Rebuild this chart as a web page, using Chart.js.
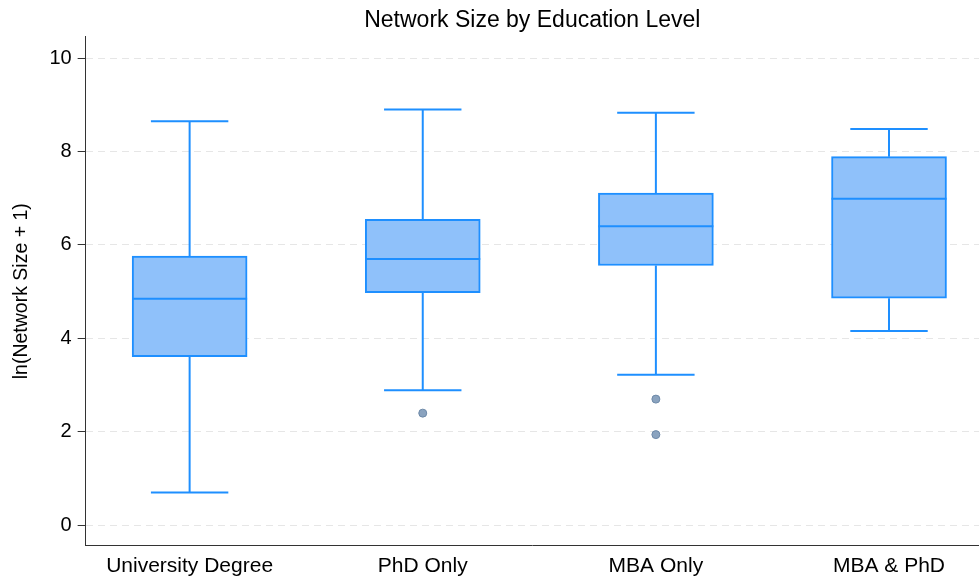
<!DOCTYPE html>
<html>
<head>
<meta charset="utf-8">
<script src="https://cdn.jsdelivr.net/npm/chart.js@4/dist/chart.umd.min.js"></script>
<style>
  html, body { margin: 0; padding: 0; background: #fff; }
  #wrap { width: 979px; height: 579px; }
</style>
</head>
<body>
<div id="wrap"><canvas id="boxChart"></canvas></div>
<script>
// box plot values
const categories = ['University Degree', 'PhD Only', 'MBA Only', 'MBA & PhD'];
const whiskerLow = [0.70, 2.89, 3.22, 4.16];
const q1 = [3.61, 4.98, 5.56, 4.86];
const median = [4.85, 5.70, 6.40, 6.99];
const q3 = [5.76, 6.55, 7.11, 7.89];
const whiskerHigh = [8.65, 8.90, 8.83, 8.48];
// outliers: category position (1-based) and value
const outlierPos = [2, 3, 3];
const outlierVal = [2.40, 2.70, 1.94];
const yTicks = [0, 2, 4, 6, 8, 10];

const FONT = "'Liberation Sans', Arial, Helvetica, sans-serif";
const BLUE = '#1e8fff';

const pos = categories.map((c, i) => i + 1);

// whisker stems as one broken line (null y = gap)
const stems = [];
pos.forEach((x, i) => {
    stems.push({x: x, y: whiskerLow[i]}, {x: x, y: q1[i]}, {x: x, y: null});
    stems.push({x: x, y: q3[i]}, {x: x, y: whiskerHigh[i]}, {x: x, y: null});
});
const caps = [];
pos.forEach((x, i) => {
    caps.push({x: x, y: whiskerLow[i]}, {x: x, y: whiskerHigh[i]});
});

// no extra edge padding for tick labels
const noPad = (scale) => {
    scale.paddingTop = 0;
    scale.paddingBottom = 0;
    scale.paddingLeft = 0;
    scale.paddingRight = 0;
};

const ctx = document.getElementById('boxChart').getContext('2d');

new Chart(ctx, {
    type: 'bar',
    data: {
        datasets: [
            {
                type: 'line',
                data: stems,
                borderColor: BLUE,
                borderWidth: 2,
                pointRadius: 0,
                spanGaps: false,
                order: 5
            },
            {
                type: 'bar',
                data: pos.map((x, i) => ({x: x, y: [q1[i], q3[i]]})),
                backgroundColor: '#8fc1fa',
                borderColor: BLUE,
                borderWidth: 2,
                borderSkipped: false,
                barThickness: 115,
                order: 4
            },
            {
                type: 'scatter',
                data: pos.map((x, i) => ({x: x, y: median[i]})),
                pointStyle: 'line',
                pointRadius: 57.5,
                borderColor: BLUE,
                borderWidth: 2,
                order: 3
            },
            {
                type: 'scatter',
                data: caps,
                pointStyle: 'line',
                pointRadius: 38.7,
                borderColor: BLUE,
                borderWidth: 2,
                order: 2
            },
            {
                type: 'scatter',
                data: outlierPos.map((x, i) => ({x: x, y: outlierVal[i]})),
                pointRadius: 4,
                backgroundColor: '#8aa3bf',
                borderColor: '#6d89a8',
                borderWidth: 1,
                order: 1
            }
        ]
    },
    options: {
        responsive: true,
        maintainAspectRatio: false,
        animation: false,
        events: [],
        layout: { autoPadding: false, padding: { left: 4, right: 0, top: 1, bottom: -8 } },
        scales: {
            x: {
                type: 'linear',
                offset: false,
                min: 0.554,
                max: 4.386,
                afterBuildTicks: (axis) => { axis.ticks = pos.map(v => ({value: v})); },
                afterFit: noPad,
                grid: { display: false, drawTicks: false, tickLength: 0 },
                border: { display: true, color: '#333', width: 1 },
                ticks: {
                    callback: (v) => categories[v - 1],
                    color: '#000',
                    padding: 8,
                    maxRotation: 0,
                    autoSkip: false,
                    font: { family: FONT, size: 21 }
                }
            },
            y: {
                type: 'linear',
                min: -0.44,
                max: 10.46,
                afterBuildTicks: (axis) => { axis.ticks = yTicks.map(v => ({value: v})); },
                afterFit: noPad,
                grid: {
                    color: '#e6e6e6',
                    lineWidth: 1,
                    tickColor: '#333',
                    tickLength: 8
                },
                border: { display: true, color: '#333', width: 1, dash: [7, 5] },
                ticks: {
                    color: '#000',
                    padding: 6,
                    font: { family: FONT, size: 20 }
                },
                title: {
                    display: true,
                    text: 'ln(Network Size + 1)',
                    color: '#000',
                    padding: { top: 6, bottom: 10 },
                    font: { family: FONT, size: 19.5 }
                }
            }
        },
        plugins: {
            legend: { display: false },
            tooltip: { enabled: false },
            title: {
                display: true,
                text: 'Network Size by Education Level',
                fullSize: false,
                color: '#000',
                padding: { top: 6, bottom: 2 },
                font: { family: FONT, size: 23, weight: 'normal' }
            }
        }
    }
});
</script>
</body>
</html>
